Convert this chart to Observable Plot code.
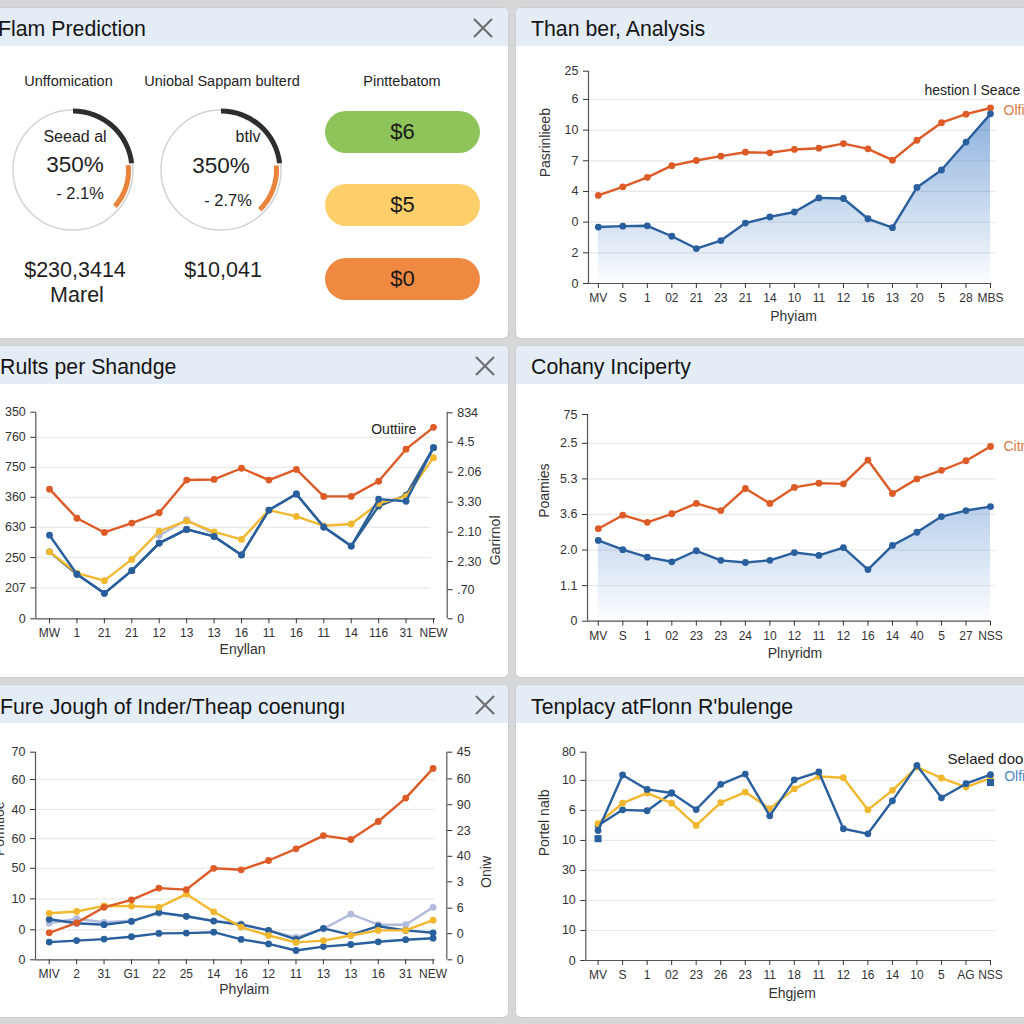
<!DOCTYPE html>
<html><head><meta charset="utf-8">
<script src="https://cdn.jsdelivr.net/npm/d3@7"></script>
<script src="https://cdn.jsdelivr.net/npm/@observablehq/plot@0.6"></script>
<style>
html,body{margin:0;padding:0;}
body{width:1024px;height:1024px;background:#d6d7d9;position:relative;overflow:hidden;font-family:"Liberation Sans",Arial,sans-serif;color:#1e1e1e;}
.panel{position:absolute;background:#fff;border-radius:5px;overflow:hidden;box-shadow:0 0 0 1px #cdd0d4;}
.hdr{position:absolute;left:0;right:0;top:0;height:38px;background:#e4ecf6;}
.t{position:absolute;white-space:nowrap;transform:translate(-50%,-50%);line-height:1;}
.title{position:absolute;white-space:nowrap;font-size:21.3px;line-height:1;transform:translateY(-50%);color:#151515;}
.pill{position:absolute;left:325px;width:155px;height:42px;border-radius:21px;display:flex;align-items:center;justify-content:center;font-size:22px;color:#1a1a1a;}
.chart{position:absolute;}
.x{position:absolute;width:22px;height:22px;}
</style></head>
<body>
<div class="panel" style="left:-10px;top:8px;width:518px;height:330px"><div class="hdr"></div></div>
<div class="panel" style="left:516px;top:8px;width:530px;height:330px"><div class="hdr"></div></div>
<div class="panel" style="left:-10px;top:346px;width:518px;height:331px"><div class="hdr"></div></div>
<div class="panel" style="left:516px;top:346px;width:530px;height:331px"><div class="hdr"></div></div>
<div class="panel" style="left:-10px;top:685px;width:518px;height:332px"><div class="hdr"></div></div>
<div class="panel" style="left:516px;top:685px;width:530px;height:332px"><div class="hdr"></div></div>
<div id="root"></div>
<script>
// ---------- data ----------
const panelTitles = ["Flam Prediction","Than ber, Analysis","Rults per Shandge","Cohany Inciperty","Fure Jough of Inder/Theap coenungı","Tenplacy atFlonn R'bulenge"];

// panel 1 (KPI gauges)
const gaugeTitles = ["Unffomication","Uniobal Sappam bulterd"];
const gaugeInner = ["Seead al","btlv"];
const gaugeValues = ["350%","350%"];
const gaugeDeltas = ["- 2.1%","- 2.7%"];
const gaugeAmounts = ["$230,3414","$10,041"];
const gaugeSubs = ["Marel",""];
const gaugeDark = [0.232, 0.232];
const gaugeOrangeFrom = [0.236, 0.237];
const gaugeOrangeTo = [0.364, 0.377];
const pillTitle = "Pinttebatom";
const pillLabels = ["$6","$5","$0"];

// panel 2
const p2X = ["MV","S","1","02","21","23","21","14","10","11","12","16","13","20","5","28","MBS"];
const p2YTicks = [0,1,2,3,4,5,6,6.92];
const p2YLabels = ["0","2","0","4","7","10","6","25"];
const p2Orange = [2.87,3.15,3.46,3.84,4.01,4.15,4.28,4.26,4.37,4.41,4.56,4.39,4.02,4.67,5.24,5.52,5.72];
const p2Blue = [1.84,1.87,1.88,1.54,1.14,1.40,1.97,2.17,2.33,2.79,2.77,2.11,1.82,3.13,3.70,4.61,5.53];

// panel 3
const p3X = ["MW","1","21","21","12","13","13","16","11","16","11","14","116","31","NEW"];
const p3YTicks = [0,1.02,2.02,3.02,4.01,5.0,5.99,6.82];
const p3YLabels = ["0","207","250","630","360","750","760","350"];
const p3RTicks = [0,0.96,1.89,2.86,3.85,4.84,5.83,6.80];
const p3RLabels = ["0",".70","2.30","2.10","3.30","2.06","4.5","834"];
const p3Orange = [4.28,3.32,2.85,3.16,3.50,4.58,4.60,4.97,4.58,4.93,4.04,4.04,4.54,5.60,6.32];
const p3Lav = [null,null,null,null,2.75,3.27,2.80,null,null,null,null,null,null,null,null];
const p3Yellow = [2.21,1.51,1.26,1.96,2.89,3.23,2.87,2.62,3.59,3.38,3.07,3.13,3.81,4.04,5.32];
const p3Blue2 = [2.21,1.47,0.84,1.59,2.50,2.95,2.72,2.11,3.59,4.12,3.03,2.40,3.72,4.08,5.65];
const p3Blue = [2.76,1.47,0.84,1.59,2.50,2.95,2.72,2.11,3.59,4.12,3.03,2.40,3.95,3.88,5.65];

// panel 4
const p4X = ["MV","S","1","02","23","23","24","10","12","11","12","16","14","40","5","27","NSS"];
const p4YTicks = [0,1,2,3,4,5,5.81];
const p4YLabels = ["0","1.1","2.0","3.6","5.3","2.5","75"];
const p4Orange = [2.60,2.98,2.78,3.02,3.31,3.11,3.73,3.31,3.76,3.88,3.86,4.53,3.59,4.00,4.24,4.51,4.91];
const p4Blue = [2.27,2.01,1.80,1.67,1.98,1.71,1.65,1.71,1.93,1.85,2.07,1.45,2.13,2.50,2.94,3.11,3.22];

// panel 5
const p5X = ["MIV","2","31","G1","22","25","14","16","12","11","13","13","16","31","NEW"];
const p5YTicks = [0,1,2.03,3.05,4.04,5.01,6.01,6.92];
const p5YLabels = ["0","0","10","50","60","40","60","70"];
const p5RTicks = [0,0.87,1.72,2.6,3.45,4.31,5.17,6.03,6.92];
const p5RLabels = ["0","0","6","3","40","23","90","60","45"];
const p5Lav = [1.22,1.37,1.25,1.30,1.55,1.45,1.30,1.20,0.98,0.75,1.03,1.52,1.17,1.17,1.75];
const p5BlueLow = [0.59,0.64,0.69,0.77,0.88,0.89,0.92,0.68,0.53,0.31,0.44,0.51,0.60,0.67,0.72];
const p5BlueTop = [1.35,1.22,1.17,1.28,1.58,1.45,1.29,1.17,0.98,0.68,1.05,0.83,1.12,0.98,0.90];
const p5Yellow = [1.55,1.61,1.80,1.79,1.75,2.19,1.60,1.09,0.81,0.58,0.64,0.81,0.98,0.98,1.32];
const p5Orange = [0.90,1.23,1.75,2.0,2.39,2.34,3.05,3.0,3.31,3.70,4.14,4.01,4.61,5.39,6.38];

// panel 6
const p6X = ["MV","S","1","02","23","26","23","11","18","11","12","16","14","10","5","AG","NSS"];
const p6YTicks = [0,1,2,3,4,5,6,6.94];
const p6YLabels = ["0","10","10","30","10","6","10","80"];
const p6BlueB = [4.50,5.02,4.99,5.58,null,null,null,null,null,null,null,null,null,null,null,null,null];
const p6Yellow = [4.56,5.24,5.58,5.24,4.50,5.26,5.61,5.06,5.72,6.13,6.09,5.02,5.67,6.44,6.08,5.78,6.08];
const p6BlueA = [4.33,6.18,5.70,5.58,5.03,5.87,6.21,4.82,6.02,6.28,4.39,4.22,5.32,6.50,5.42,5.89,6.19];
const p6Extra = [4.06,null,null,null,null,null,null,null,null,null,null,null,null,null,null,null,5.93];

// ---------- style ----------
const ORANGE = "#dd5b27", BLUE = "#2a5f9e", YELLOW = "#f1b82f", LAV = "#b2bbdb";
const root = document.getElementById("root");
const baseStyle = {fontFamily: "Liberation Sans, Arial, sans-serif", fontSize: "12px", color: "#333", background: "transparent", overflow: "visible"};

function place(el, left, top) {
  el.classList.add("chart");
  el.style.left = left + "px"; el.style.top = top + "px";
  root.appendChild(el);
}
function toData(vals) { return vals.map((v, i) => ({i, v})).filter(d => d.v != null); }
function defsMark(id, color, op) {
  return () => {
    const defs = document.createElementNS("http://www.w3.org/2000/svg", "defs");
    defs.innerHTML = `<linearGradient id="${id}" x1="0" y1="0" x2="0" y2="1"><stop offset="0" stop-color="${color}" stop-opacity="${op}"/><stop offset="1" stop-color="${color}" stop-opacity="0.02"/></linearGradient>`;
    return defs;
  };
}

function chart(c) {
  const yMap = new Map(c.yTicks.map((t, k) => [t, c.yLabels[k]]));
  const yMax = c.yTicks[c.yTicks.length - 1];
  const marks = [];
  if (c.area) marks.push(defsMark(c.area.id, c.area.color, c.area.op));
  marks.push(Plot.ruleY(c.yTicks.slice(1, c.gridCount + 1), {x1: c.xDomain[0], x2: c.gridEnd, stroke: "#e9e9e9", strokeWidth: 1.2}));
  if (c.area) marks.push(Plot.areaY(toData(c.area.values), {x: "i", y: "v", fill: `url(#${c.area.id})`}));
  for (const s of c.series) {
    const d = toData(s.values);
    if (s.line !== false) marks.push(Plot.line(d, {x: "i", y: "v", stroke: s.color, strokeWidth: s.w ?? 2.4, strokeLinejoin: "round"}));
    marks.push(Plot.dot(d, {x: "i", y: "v", fill: s.color, r: s.r ?? 3.4, symbol: s.symbol ?? "circle"}));
  }
  marks.push(Plot.ruleX([c.xDomain[0]], {y1: 0, y2: yMax, stroke: "#555", strokeWidth: 1.2}));
  marks.push(Plot.ruleY([0], {x1: c.xDomain[0], x2: c.axisEnd, stroke: "#555", strokeWidth: 1.2}));
  marks.push(Plot.axisY(c.yTicks, {tickFormat: d => yMap.get(d), tickSize: 5, tickPadding: 5, label: null, fontSize: 12.5}));
  marks.push(Plot.axisX(d3.range(c.xLabels.length), {tickFormat: i => c.xLabels[i], tickSize: 5, tickPadding: 5, label: null, fontSize: 12}));
  if (c.rTicks) {
    const rMap = new Map(c.rTicks.map((t, k) => [t, c.rLabels[k]]));
    marks.push(Plot.ruleX([c.xDomain[1]], {y1: 0, y2: yMax, stroke: "#555", strokeWidth: 1.2}));
    marks.push(Plot.axisY(c.rTicks, {anchor: "right", tickFormat: d => rMap.get(d), tickSize: 5, tickPadding: 5, label: null, fontSize: 12.5}));
    marks.push(Plot.text([c.rTitle], {text: d => d, frameAnchor: "right", lineAnchor: "middle", dx: c.rTitleDx, rotate: -90, fontSize: 14, fill: "#333"}));
  }
  marks.push(Plot.text([c.xTitle], {text: d => d, frameAnchor: "bottom", lineAnchor: "middle", dy: c.xTitleDy, dx: c.xTitleDx, fontSize: 14, fill: "#333"}));
  if (c.yTitle) marks.push(Plot.text([c.yTitle], {text: d => d, frameAnchor: "left", lineAnchor: "middle", dx: c.yTitleDx, rotate: -90, fontSize: 14, fill: "#333"}));
  for (const n of c.notes) {
    marks.push(Plot.text([n.text], {text: d => d, frameAnchor: "top-right", lineAnchor: "middle", dx: n.dx, dy: n.dy, textAnchor: "start", fontSize: n.size ?? 14, fill: n.color ?? "#222"}));
  }
  const svg = Plot.plot({
    width: c.width, height: c.height,
    marginLeft: c.m[0], marginRight: c.m[1], marginTop: c.m[2], marginBottom: c.m[3],
    x: {domain: c.xDomain}, y: {domain: [0, yMax]},
    style: baseStyle, marks
  });
  place(svg, c.left, c.top);
}

// panel 2
chart({left: 516, top: 46, width: 508, height: 292, m: [72, 34, 24.7, 55],
  xDomain: [-0.4, 16], axisEnd: 16, gridEnd: 16.2, gridCount: 6,
  xLabels: p2X, yTicks: p2YTicks, yLabels: p2YLabels,
  area: {id: "g2", values: p2Blue, color: "#3f7cc6", op: 0.6},
  series: [{values: p2Orange, color: ORANGE}, {values: p2Blue, color: BLUE}],
  xTitle: "Phyiam", xTitleDy: 33, xTitleDx: 4, yTitle: "Pasrinlieeb", yTitleDx: -43,
  notes: [{text: "hestion l Seace", dx: -66, dy: 19.3}, {text: "Olfi", dx: 13, dy: 39.3, color: "#e07a45"}]});

// panel 3
chart({left: 0, top: 384, width: 508, height: 292, m: [35.3, 61.3, 27.7, 57.7],
  xDomain: [-0.5, 14.5], axisEnd: 14.07, gridEnd: 13.9, gridCount: 6,
  xLabels: p3X, yTicks: p3YTicks, yLabels: p3YLabels, rTicks: p3RTicks, rLabels: p3RLabels, rTitle: "Garirnol", rTitleDx: 48,
  series: [{values: p3Orange, color: ORANGE}, {values: p3Lav, color: LAV}, {values: p3Blue2, color: "#2d5f8c"},
           {values: p3Yellow, color: YELLOW}, {values: p3Blue, color: BLUE}],
  xTitle: "Enyllan", xTitleDy: 31, xTitleDx: 1, yTitle: null,
  notes: [{text: "Outtiire", dx: -76, dy: 17.6}]});

// panel 4
chart({left: 516, top: 384, width: 508, height: 292, m: [71, 34, 30, 55.3],
  xDomain: [-0.44, 16], axisEnd: 16, gridEnd: 16.2, gridCount: 5,
  xLabels: p4X, yTicks: p4YTicks, yLabels: p4YLabels,
  area: {id: "g4", values: p4Blue, color: "#5b8fd0", op: 0.42},
  series: [{values: p4Orange, color: ORANGE}, {values: p4Blue, color: BLUE}],
  xTitle: "Plnyridm", xTitleDy: 32.3, xTitleDx: 6, yTitle: "Poamies", yTitleDx: -43,
  notes: [{text: "Citn", dx: 13, dy: 32, color: "#e07a45"}]});

// panel 5
chart({left: 0, top: 723, width: 508, height: 294, m: [35, 61.7, 28.7, 57.7],
  xDomain: [-0.5, 14.5], axisEnd: 14.07, gridEnd: 14.07, gridCount: 6,
  xLabels: p5X, yTicks: p5YTicks, yLabels: p5YLabels, rTicks: p5RTicks, rLabels: p5RLabels, rTitle: "Oniw", rTitleDx: 40,
  series: [{values: p5Lav, color: LAV}, {values: p5BlueLow, color: BLUE}, {values: p5BlueTop, color: BLUE},
           {values: p5Yellow, color: YELLOW}, {values: p5Orange, color: ORANGE}],
  xTitle: "Phylaim", xTitleDy: 30, xTitleDx: 3, yTitle: "Pomitioe", yTitleDx: -36,
  notes: []});

// panel 6
chart({left: 516, top: 723, width: 508, height: 294, m: [69.3, 34, 28.7, 57],
  xDomain: [-0.5, 16], axisEnd: 16, gridEnd: 16.2, gridCount: 6,
  xLabels: p6X, yTicks: p6YTicks, yLabels: p6YLabels,
  series: [{values: p6BlueB, color: BLUE}, {values: p6Yellow, color: YELLOW}, {values: p6BlueA, color: BLUE},
           {values: p6Extra, color: BLUE, line: false, symbol: "square", r: 4}],
  xTitle: "Ehgjem", xTitleDy: 32.7, xTitleDx: 4, yTitle: "Portel nalb", yTitleDx: -41,
  notes: [{text: "Selaed door", dx: -43, dy: 7.3, size: 15}, {text: "Olfi", dx: 13.7, dy: 24, color: "#4a86c5"}]});

// panel 1 gauges
const gaugeCx = [73, 221], gaugeCy = 124;
const gaugeMark = () => {
  const g = d3.create("svg:g");
  gaugeTitles.forEach((_, k) => {
    const tr = `translate(${gaugeCx[k]},${gaugeCy})`;
    g.append("circle").attr("cx", gaugeCx[k]).attr("cy", gaugeCy).attr("r", 60)
      .attr("fill", "none").attr("stroke", "#d2d2d2").attr("stroke-width", 1.5);
    g.append("path").attr("transform", tr).attr("fill", "#2e2e2e")
      .attr("d", d3.arc()({innerRadius: 56.5, outerRadius: 61.5, startAngle: 0, endAngle: gaugeDark[k] * 2 * Math.PI}));
    g.append("path").attr("transform", tr).attr("fill", "#e8843c")
      .attr("d", d3.arc()({innerRadius: 53, outerRadius: 58, startAngle: gaugeOrangeFrom[k] * 2 * Math.PI, endAngle: gaugeOrangeTo[k] * 2 * Math.PI}));
  });
  return g.node();
};
place(Plot.plot({width: 508, height: 292, margin: 0, style: baseStyle, marks: [gaugeMark]}), 0, 46);

// ---------- HTML text ----------
function addText(txt, x, y, size, extra) {
  const d = document.createElement("div");
  d.className = "t"; d.textContent = txt;
  d.style.left = x + "px"; d.style.top = y + "px"; d.style.fontSize = size + "px";
  if (extra) Object.assign(d.style, extra);
  root.appendChild(d);
}
const titlePos = [[-2, 30], [531, 30], [0, 368], [531, 368], [0, 708], [531, 708]];
panelTitles.forEach((t, k) => {
  const d = document.createElement("div");
  d.className = "title"; d.textContent = t;
  d.style.left = titlePos[k][0] + "px"; d.style.top = titlePos[k][1] + "px";
  root.appendChild(d);
});
[[483, 28], [485, 366], [485, 705]].forEach(([x, y]) => {
  const s = document.createElementNS("http://www.w3.org/2000/svg", "svg");
  s.setAttribute("class", "x"); s.setAttribute("width", 22); s.setAttribute("height", 22);
  s.style.left = (x - 11) + "px"; s.style.top = (y - 11) + "px";
  s.innerHTML = '<path d="M2 2 L20 20 M20 2 L2 20" stroke="#707070" stroke-width="2.2" fill="none"/>';
  root.appendChild(s);
});
const colX = [68.5, 222, 402];
gaugeTitles.forEach((t, k) => addText(t, colX[k], 81, 14.5));
addText(pillTitle, colX[2], 81, 14.5);
const innerPos = [[75, 137], [248, 137]], valPos = [[75, 165], [221, 166]], deltaPos = [[80, 193], [228, 200]];
gaugeTitles.forEach((_, k) => {
  addText(gaugeInner[k], innerPos[k][0], innerPos[k][1], 16);
  addText(gaugeValues[k], valPos[k][0], valPos[k][1], 22.5);
  addText(gaugeDeltas[k], deltaPos[k][0], deltaPos[k][1], 16.5);
  addText(gaugeAmounts[k], [75, 223][k], 271, 21.5);
  if (gaugeSubs[k]) addText(gaugeSubs[k], 77, 296, 21.5);
});
const pillColors = ["#8ec45a", "#fccf6a", "#ef8840"], pillTops = [111, 184, 258];
pillLabels.forEach((p, k) => {
  const d = document.createElement("div");
  d.className = "pill"; d.textContent = p;
  d.style.top = pillTops[k] + "px"; d.style.background = pillColors[k];
  root.appendChild(d);
});
</script>
</body></html>
